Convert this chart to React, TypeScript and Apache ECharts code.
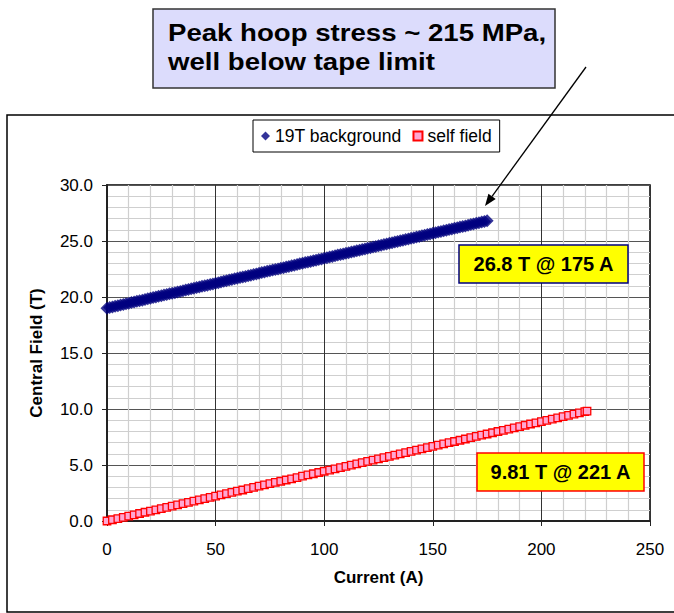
import React, { useEffect, useRef } from "react";
import * as echarts from "echarts";

const FONT = "'Liberation Sans', Arial, Helvetica, sans-serif";

const seriesNames = ["19T background", "self field"];

const currentBg = [
  0, 1.25, 2.5, 3.75, 5, 6.25, 7.5, 8.75, 10, 11.25, 12.5, 13.75, 15, 16.25, 17.5, 18.75, 20, 21.25,
  22.5, 23.75, 25, 26.25, 27.5, 28.75, 30, 31.25, 32.5, 33.75, 35, 36.25, 37.5, 38.75, 40, 41.25,
  42.5, 43.75, 45, 46.25, 47.5, 48.75, 50, 51.25, 52.5, 53.75, 55, 56.25, 57.5, 58.75, 60, 61.25,
  62.5, 63.75, 65, 66.25, 67.5, 68.75, 70, 71.25, 72.5, 73.75, 75, 76.25, 77.5, 78.75, 80, 81.25,
  82.5, 83.75, 85, 86.25, 87.5, 88.75, 90, 91.25, 92.5, 93.75, 95, 96.25, 97.5, 98.75, 100, 101.25,
  102.5, 103.75, 105, 106.25, 107.5, 108.75, 110, 111.25, 112.5, 113.75, 115, 116.25, 117.5, 118.75,
  120, 121.25, 122.5, 123.75, 125, 126.25, 127.5, 128.75, 130, 131.25, 132.5, 133.75, 135, 136.25,
  137.5, 138.75, 140, 141.25, 142.5, 143.75, 145, 146.25, 147.5, 148.75, 150, 151.25, 152.5, 153.75,
  155, 156.25, 157.5, 158.75, 160, 161.25, 162.5, 163.75, 165, 166.25, 167.5, 168.75, 170, 171.25,
  172.5, 173.75, 175,
];
const fieldBg = [
  19.0, 19.06, 19.11, 19.17, 19.22, 19.28, 19.33, 19.39, 19.45, 19.5, 19.56, 19.61, 19.67, 19.72,
  19.78, 19.84, 19.89, 19.95, 20.0, 20.06, 20.11, 20.17, 20.23, 20.28, 20.34, 20.39, 20.45, 20.5,
  20.56, 20.62, 20.67, 20.73, 20.78, 20.84, 20.89, 20.95, 21.01, 21.06, 21.12, 21.17, 21.23, 21.28,
  21.34, 21.4, 21.45, 21.51, 21.56, 21.62, 21.67, 21.73, 21.79, 21.84, 21.9, 21.95, 22.01, 22.06,
  22.12, 22.18, 22.23, 22.29, 22.34, 22.4, 22.45, 22.51, 22.57, 22.62, 22.68, 22.73, 22.79, 22.84,
  22.9, 22.96, 23.01, 23.07, 23.12, 23.18, 23.23, 23.29, 23.35, 23.4, 23.46, 23.51, 23.57, 23.62,
  23.68, 23.74, 23.79, 23.85, 23.9, 23.96, 24.01, 24.07, 24.13, 24.18, 24.24, 24.29, 24.35, 24.4,
  24.46, 24.52, 24.57, 24.63, 24.68, 24.74, 24.79, 24.85, 24.91, 24.96, 25.02, 25.07, 25.13, 25.18,
  25.24, 25.3, 25.35, 25.41, 25.46, 25.52, 25.57, 25.63, 25.69, 25.74, 25.8, 25.85, 25.91, 25.96,
  26.02, 26.08, 26.13, 26.19, 26.24, 26.3, 26.35, 26.41, 26.47, 26.52, 26.58, 26.63, 26.69, 26.75,
  26.8,
];

const currentSelf = [
  0, 2.5, 5, 7.5, 10, 12.5, 15, 17.5, 20, 22.5, 25, 27.5, 30, 32.5, 35, 37.5, 40, 42.5, 45, 47.5,
  50, 52.5, 55, 57.5, 60, 62.5, 65, 67.5, 70, 72.5, 75, 77.5, 80, 82.5, 85, 87.5, 90, 92.5, 95, 97.5,
  100, 102.5, 105, 107.5, 110, 112.5, 115, 117.5, 120, 122.5, 125, 127.5, 130, 132.5, 135, 137.5,
  140, 142.5, 145, 147.5, 150, 152.5, 155, 157.5, 160, 162.5, 165, 167.5, 170, 172.5, 175, 177.5,
  180, 182.5, 185, 187.5, 190, 192.5, 195, 197.5, 200, 202.5, 205, 207.5, 210, 212.5, 215, 217.5,
  220, 221,
];
const fieldSelf = [
  0.0, 0.11, 0.22, 0.33, 0.44, 0.55, 0.67, 0.78, 0.89, 1.0, 1.11, 1.22, 1.33, 1.44, 1.55, 1.66,
  1.78, 1.89, 2.0, 2.11, 2.22, 2.33, 2.44, 2.55, 2.66, 2.77, 2.89, 3.0, 3.11, 3.22, 3.33, 3.44,
  3.55, 3.66, 3.77, 3.88, 4.0, 4.11, 4.22, 4.33, 4.44, 4.55, 4.66, 4.77, 4.88, 4.99, 5.1, 5.22,
  5.33, 5.44, 5.55, 5.66, 5.77, 5.88, 5.99, 6.1, 6.21, 6.33, 6.44, 6.55, 6.66, 6.77, 6.88, 6.99,
  7.1, 7.21, 7.32, 7.44, 7.55, 7.66, 7.77, 7.88, 7.99, 8.1, 8.21, 8.32, 8.43, 8.55, 8.66, 8.77,
  8.88, 8.99, 9.1, 9.21, 9.32, 9.43, 9.54, 9.65, 9.77, 9.81,
];

const titleLines = ["Peak hoop stress ~ 215 MPa,", "well below tape limit"];
const noteBg = "26.8 T @ 175 A";
const noteSelf = "9.81 T @ 221 A";
const xName = "Current (A)";
const yName = "Central Field (T)";

export default function App() {
  const ref = useRef<HTMLDivElement>(null);
  useEffect(() => {
    if (!ref.current) return;
    const chart = echarts.init(ref.current, null, { renderer: "svg" });
    const bgData = currentBg.map((c, i) => [c, fieldBg[i]]);
    const selfData = currentSelf.map((c, i) => [c, fieldSelf[i]]);

    // arrow geometry
    const ax0 = 586, ay0 = 67, ax1 = 485, ay1 = 206;
    const dx = ax1 - ax0, dy = ay1 - ay0;
    const len = Math.sqrt(dx * dx + dy * dy);
    const ux = dx / len, uy = dy / len;
    const hl = 12, hw = 4.5;
    const bx = ax1 - ux * hl, by = ay1 - uy * hl;
    const px = -uy, py = ux;

    chart.setOption({
      animation: false,
      backgroundColor: "#ffffff",
      textStyle: { fontFamily: FONT },
      grid: {
        left: 107,
        right: 24,
        top: 185,
        bottom: 92,
        show: true,
        borderColor: "#000",
        borderWidth: 1.5,
        backgroundColor: "#fff",
      },
      legend: {
        data: seriesNames,
        left: 253,
        top: 120,
        orient: "horizontal",
        borderColor: "#000",
        borderWidth: 1,
        padding: [7, 8, 7, 8],
        itemGap: 11,
        itemWidth: 9,
        itemHeight: 9,
        backgroundColor: "#fff",
        textStyle: { fontFamily: FONT, fontSize: 17.5, color: "#000" },
      },
      xAxis: {
        type: "value",
        min: 0,
        max: 250,
        interval: 50,
        name: xName,
        nameLocation: "middle",
        nameGap: 48,
        nameTextStyle: { fontFamily: FONT, fontSize: 17, fontWeight: "bold", color: "#000" },
        axisLine: { show: true, lineStyle: { color: "#222", width: 2 } },
        axisTick: { show: true, inside: false, length: 5, lineStyle: { color: "#222" } },
        axisLabel: { fontFamily: FONT, fontSize: 17, color: "#000", margin: 20 },
        splitLine: { show: true, lineStyle: { color: "#333", width: 1 } },
        minorTick: { show: false, splitNumber: 5 },
        minorSplitLine: { show: true, lineStyle: { color: "#cfcfcf", width: 1.2 } },
      },
      yAxis: {
        type: "value",
        min: 0,
        max: 30,
        interval: 5,
        name: yName,
        nameLocation: "middle",
        nameGap: 62,
        nameTextStyle: { fontFamily: FONT, fontSize: 17, fontWeight: "bold", color: "#000" },
        axisLine: { show: true, lineStyle: { color: "#222", width: 2 } },
        axisTick: { show: true, inside: false, length: 5, lineStyle: { color: "#222" } },
        axisLabel: {
          fontFamily: FONT,
          fontSize: 17,
          color: "#000",
          margin: 14,
          formatter: (v: number) => v.toFixed(1),
        },
        splitLine: { show: true, lineStyle: { color: "#555", width: 1 } },
        minorTick: { show: false, splitNumber: 5 },
        minorSplitLine: { show: true, lineStyle: { color: "#cfcfcf", width: 1.2 } },
      },
      series: [
        {
          name: seriesNames[0],
          type: "scatter",
          symbol: "diamond",
          symbolSize: 13,
          itemStyle: { color: "#000080" },
          data: bgData,
          z: 3,
        },
        {
          name: seriesNames[1],
          type: "scatter",
          symbol: "rect",
          symbolSize: 7.5,
          itemStyle: { color: "#ffa6d2", borderColor: "#ff0000", borderWidth: 1.3, opacity: 1 },
          data: selfData,
          z: 3,
        },
      ],
      graphic: [
        {
          type: "rect",
          shape: { x: 7, y: 115, width: 700, height: 497 },
          style: { fill: "none", stroke: "#000", lineWidth: 1.5 },
          z: -10,
          silent: true,
        },
        {
          type: "rect",
          shape: { x: 153, y: 9, width: 402, height: 79 },
          style: { fill: "#dcdcfc", stroke: "#333", lineWidth: 1.5 },
          z: 10,
        },
        {
          type: "text",
          x: 168,
          y: 21,
          scaleX: 1.15,
          style: {
            text: titleLines[0],
            fontFamily: FONT,
            fontSize: 24,
            fontWeight: "bold",
            fill: "#000",
            textVerticalAlign: "top",
          },
          z: 11,
        },
        {
          type: "text",
          x: 168,
          y: 50,
          scaleX: 1.15,
          style: {
            text: titleLines[1],
            fontFamily: FONT,
            fontSize: 24,
            fontWeight: "bold",
            fill: "#000",
            textVerticalAlign: "top",
          },
          z: 11,
        },
        {
          type: "line",
          shape: { x1: ax0, y1: ay0, x2: bx, y2: by },
          style: { stroke: "#000", lineWidth: 1.3 },
          z: 20,
        },
        {
          type: "polygon",
          shape: {
            points: [
              [ax1, ay1],
              [bx + px * hw, by + py * hw],
              [bx - px * hw, by - py * hw],
            ],
          },
          style: { fill: "#000" },
          z: 20,
        },
        {
          type: "rect",
          shape: { x: 459, y: 245, width: 169, height: 38 },
          style: { fill: "#ffff00", stroke: "#000080", lineWidth: 1.5 },
          z: 20,
        },
        {
          type: "text",
          x: 543.5,
          y: 264,
          style: {
            text: noteBg,
            fontFamily: FONT,
            fontSize: 20,
            fontWeight: "bold",
            fill: "#000",
            textAlign: "center",
            textVerticalAlign: "middle",
          },
          z: 21,
        },
        {
          type: "rect",
          shape: { x: 477, y: 453, width: 167, height: 38 },
          style: { fill: "#ffff00", stroke: "#ff0000", lineWidth: 1.5 },
          z: 20,
        },
        {
          type: "text",
          x: 560.5,
          y: 472,
          style: {
            text: noteSelf,
            fontFamily: FONT,
            fontSize: 20,
            fontWeight: "bold",
            fill: "#000",
            textAlign: "center",
            textVerticalAlign: "middle",
          },
          z: 21,
        },
      ],
    });
    return () => chart.dispose();
  }, []);
  return (
    <div
      ref={ref}
      style={{ position: "fixed", left: 0, top: 0, width: 674, height: 613, background: "#fff" }}
    />
  );
}
